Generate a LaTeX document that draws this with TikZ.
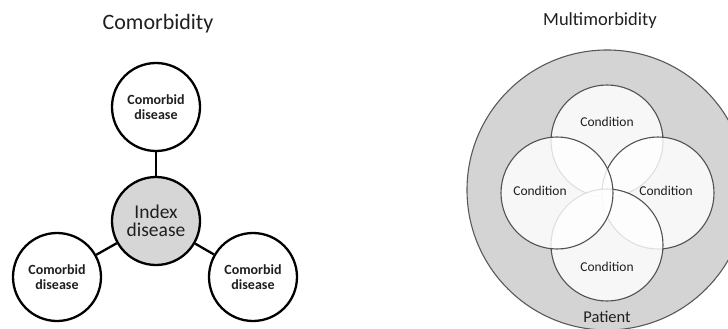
\documentclass[tikz,border=0pt]{standalone}
\usepackage{fontspec}
\setmainfont{Carlito}
\begin{document}
\begin{tikzpicture}[x=1pt,y=-1pt,
  txt/.style={text=black!88},
  title/.style={txt,anchor=base,font=\fontsize{22}{26}\selectfont},
  comorb/.style={circle,draw=black,line width=2.3pt,minimum size=88pt,inner sep=0pt,fill=white,
    align=center,txt,font=\fontsize{14}{15.5}\selectfont\bfseries},
  index/.style={comorb,fill=black!16,font=\fontsize{19.5}{18.5}\selectfont},
  link/.style={draw=black,line width=2.3pt},
  cond/.style={circle,draw=black!68,line width=1.1pt,minimum size=112pt,inner sep=0pt,
    fill=white,fill opacity=0.82},
  condtxt/.style={txt,font=\fontsize{13.5}{15}\selectfont},
]
\useasboundingbox (0,0) rectangle (728,329);
% ---- Comorbidity ----
\node[title] (t1) at (158,30) {Comorbidity};
\node[comorb] (top) at (156,107) {Comorbid\\disease};
\node[index] (idx) at (156,221) {Index\\disease};
\node[comorb] (bl) at (57,277) {Comorbid\\disease};
\node[comorb] (br) at (253,277) {Comorbid\\disease};
\draw[link] (top) -- (idx);
\draw[link] (idx) -- (bl);
\draw[link] (idx) -- (br);
% ---- Multimorbidity ----
\node[title,font=\fontsize{18.5}{22}\selectfont] (t2) at (600,26) {Multimorbidity};
\begin{scope}
\clip (0,0) rectangle (728,329);
\node[circle,draw=black!65,line width=1.1pt,fill=black!17,minimum size=280pt,inner sep=0pt] (pat) at (607,190) {};
\end{scope}
\node[cond] (c1) at (607,141) {};
\node[cond] (c3) at (658,193) {};
\node[cond] (c4) at (607,245) {};
\node[cond] (c2) at (557,193) {};
\node[condtxt] (l1) at (607,122) {Condition};
\node[condtxt] (l2) at (540,191) {Condition};
\node[condtxt] (l3) at (666,191) {Condition};
\node[condtxt] (l4) at (607,267) {Condition};
\node[txt,font=\fontsize{16.5}{18}\selectfont] (lp) at (607,317) {Patient};
\end{tikzpicture}
\end{document}
